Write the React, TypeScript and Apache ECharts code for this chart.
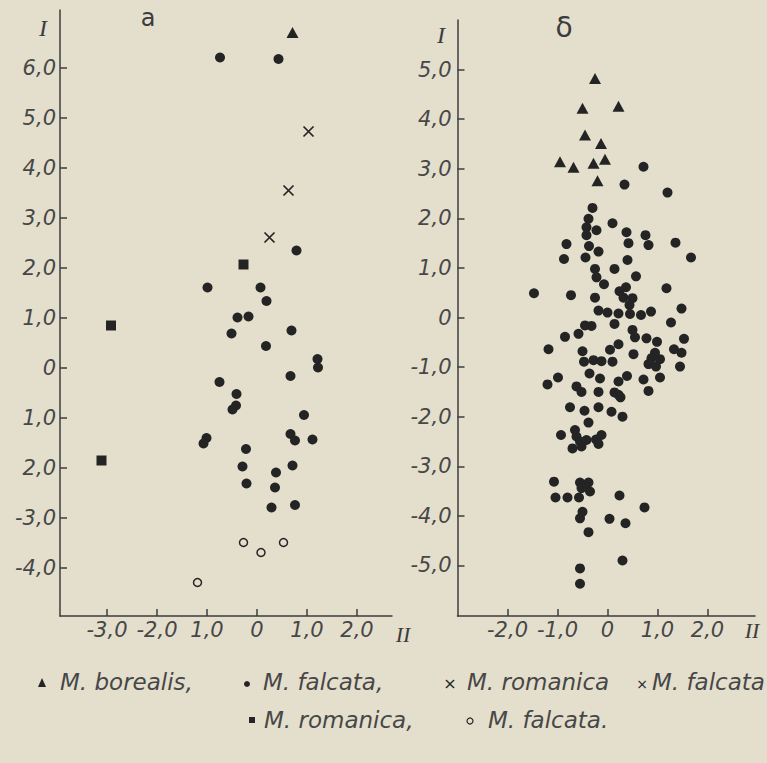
import React, { useEffect, useRef } from "react";
import * as echarts from "echarts";

// ---------- data ----------
// Panel а
const aBorealis = [[0.71, 6.71]];
const aFalcata = [
  [-0.74, 6.21], [0.43, 6.18], [0.79, 2.35], [-0.99, 1.61], [0.07, 1.61], [0.19, 1.34],
  [-0.39, 1.01], [-0.17, 1.03], [-0.51, 0.69], [0.69, 0.75], [0.18, 0.44], [1.21, 0.18],
  [1.22, 0.01], [0.67, -0.16], [-0.75, -0.28], [-0.41, -0.52], [-0.42, -0.75], [-0.49, -0.83],
  [0.94, -0.94], [-1.01, -1.4], [-1.07, -1.51], [0.67, -1.32], [0.76, -1.45], [1.11, -1.43],
  [-0.22, -1.62], [-0.29, -1.97], [0.71, -1.95], [0.38, -2.09], [-0.21, -2.31], [0.36, -2.39],
  [0.29, -2.79], [0.76, -2.74],
];
const aHybrid = [[1.03, 4.73], [0.63, 3.55], [0.25, 2.61]];
const aRomanica = [[-0.27, 2.07], [-2.92, 0.85], [-3.11, -1.85]];
const aFalcataOpen = [[-0.27, -3.49], [0.08, -3.69], [0.53, -3.49], [-1.19, -4.29]];

// Panel б
const bBorealis = [
  [-0.25, 4.82], [-0.5, 4.22], [0.22, 4.26], [-0.45, 3.68], [-0.13, 3.51],
  [-0.95, 3.14], [-0.68, 3.03], [-0.28, 3.11], [-0.05, 3.19], [-0.2, 2.76],
];
const bFalcata = [
  [0.72, 3.04], [0.34, 2.68], [1.2, 2.52], [-0.3, 2.21], [-0.38, 1.99], [-0.42, 1.82],
  [-0.42, 1.66], [-0.22, 1.76], [0.1, 1.9], [0.38, 1.72], [0.76, 1.66], [-0.82, 1.48],
  [-0.37, 1.44], [0.42, 1.5], [0.82, 1.46], [1.36, 1.51], [-0.18, 1.33], [-0.87, 1.18],
  [-0.44, 1.21], [0.4, 1.16], [1.67, 1.21], [-0.25, 0.98], [0.14, 0.98], [-0.22, 0.81],
  [0.57, 0.83], [-0.07, 0.67], [0.37, 0.61], [0.24, 0.53], [1.18, 0.59], [-1.47, 0.49],
  [-0.73, 0.45], [-0.25, 0.4], [0.32, 0.4], [0.5, 0.39], [0.44, 0.25], [1.48, 0.18],
  [-0.18, 0.14], [0.0, 0.1], [0.22, 0.08], [0.45, 0.07], [0.67, 0.05], [0.87, 0.12],
  [1.27, -0.1], [0.14, -0.13], [-0.45, -0.16], [-0.32, -0.17], [-0.58, -0.33], [-0.85, -0.39],
  [0.5, -0.25], [0.55, -0.4], [0.78, -0.42], [0.99, -0.49], [1.53, -0.43], [-1.18, -0.64],
  [0.22, -0.54], [0.05, -0.65], [-0.5, -0.68], [0.52, -0.74], [0.95, -0.71], [1.33, -0.64],
  [1.48, -0.71], [0.88, -0.82], [1.05, -0.84], [0.82, -0.94], [0.97, -0.99], [1.45, -0.99],
  [-0.47, -0.89], [-0.28, -0.86], [-0.12, -0.88], [0.1, -0.89], [-0.36, -1.13], [-0.15, -1.23],
  [0.39, -1.18], [0.22, -1.29], [0.72, -1.25], [1.05, -1.21], [0.82, -1.48], [-1.2, -1.35],
  [-0.99, -1.21], [-0.62, -1.39], [-0.52, -1.5], [-0.18, -1.5], [0.14, -1.51], [0.22, -1.56],
  [0.26, -1.61], [-0.75, -1.81], [-0.46, -1.88], [-0.18, -1.81], [0.08, -1.9], [0.3, -2.0],
  [-0.38, -2.12], [-0.93, -2.37], [-0.65, -2.27], [-0.62, -2.4], [-0.7, -2.64], [-0.55, -2.5],
  [-0.52, -2.6], [-0.42, -2.47], [-0.23, -2.46], [-0.12, -2.37], [-0.18, -2.55], [-1.07, -3.31],
  [-1.04, -3.63], [-0.8, -3.63], [-0.57, -3.63], [-0.55, -3.33], [-0.48, -3.4], [-0.38, -3.33],
  [-0.35, -3.51], [-0.52, -3.44], [-0.5, -3.92], [-0.55, -4.05], [-0.38, -4.33], [0.24, -3.59],
  [0.74, -3.83], [0.04, -4.06], [0.36, -4.15], [0.3, -4.9], [-0.55, -5.06], [-0.55, -5.37],
];

// Tick values and their printed labels
const aXTicks = [-3, -2, -1, 0, 1, 2];
const aXLabels = ["-3,0", "-2,0", "1,0", "0", "1,0", "2,0"];
const aYTicks = [-4, -3, -2, -1, 0, 1, 2, 3, 4, 5, 6];
const aYLabels = ["-4,0", "-3,0", "2,0", "1,0", "0", "1,0", "2,0", "3,0", "4,0", "5,0", "6,0"];
const bXTicks = [-2, -1, 0, 1, 2];
const bXLabels = ["-2,0", "-1,0", "0", "1,0", "2,0"];
const bYTicks = [-5, -4, -3, -2, -1, 0, 1, 2, 3, 4, 5];
const bYLabels = ["-5,0", "-4,0", "-3,0", "-2,0", "-1,0", "0", "1,0", "2,0", "3,0", "4,0", "5,0"];

const legendLine1 = ["M. borealis,", "M. falcata,", "M. romanica", "M. falcata"];
const legendLine2 = ["M. romanica,", "M. falcata."];

const INK = "#242424";
const AXIS = "#3c3c3c";
const LABEL = "#474747";
const BG = "#e4dfcd";
const SANS = "'DejaVu Sans', 'Noto Sans', sans-serif";
const SERIF = "'Liberation Serif', 'DejaVu Serif', serif";

const fmt = (ticks: number[], labels: string[]) => (v: number) => {
  const i = ticks.findIndex((t) => Math.abs(t - v) < 1e-6);
  return i >= 0 ? labels[i] : "";
};

function axis(
  gridIndex: number,
  min: number,
  max: number,
  ticks: number[],
  labels: string[],
  margin: number
) {
  return {
    type: "value",
    gridIndex,
    min,
    max,
    axisLine: { show: true, onZero: false, lineStyle: { color: AXIS, width: 1.5 } },
    axisTick: {
      show: true,
      inside: true,
      length: 7,
      customValues: ticks,
      lineStyle: { color: AXIS, width: 1.5 },
    },
    axisLabel: {
      customValues: ticks,
      formatter: fmt(ticks, labels),
      fontFamily: SANS,
      fontStyle: "italic",
      fontWeight: 300,
      fontSize: 21,
      color: LABEL,
      margin,
      showMinLabel: true,
      showMaxLabel: true,
    },
    splitLine: { show: false },
  };
}

const centered = { textAlign: "center", textVerticalAlign: "middle", align: "center", verticalAlign: "middle" };
const lefted = { textAlign: "left", textVerticalAlign: "middle", align: "left", verticalAlign: "middle" };

export default function App() {
  const ref = useRef<HTMLDivElement>(null);
  useEffect(() => {
    document.body.style.margin = "0";
    const chart = echarts.init(ref.current!, null, { renderer: "svg" });

    const scatter = (data: number[][], xi: number, name: string, symbol: string, size: any, itemStyle: any) => ({
      type: "scatter",
      name,
      xAxisIndex: xi,
      yAxisIndex: xi,
      data,
      symbol,
      symbolSize: size,
      itemStyle: { opacity: 1, ...itemStyle },
      emphasis: { disabled: true },
    });

    const legendFont = `italic 23px ${SANS}`;

    const option: any = {
      animation: false,
      backgroundColor: BG,
      grid: [
        { left: 60, top: 10, width: 332, height: 606, containLabel: false },
        { left: 457.5, top: 20, width: 297.5, height: 596, containLabel: false },
      ],
      xAxis: [
        axis(0, -3.94, 2.7, aXTicks, aXLabels, 3),
        axis(1, -3, 2.95, bXTicks, bXLabels, 3),
      ],
      yAxis: [
        axis(0, -4.96, 7.16, aYTicks, aYLabels, 4),
        axis(1, -6.02, 6.0, bYTicks, bYLabels, 6),
      ],
      series: [
        scatter(aFalcata, 0, "M. falcata", "circle", 10, { color: INK }),
        scatter(aBorealis, 0, "M. borealis", "triangle", [12, 11], { color: INK }),
        scatter(aHybrid, 0, "M. romanica × M. falcata", "path://M0,0L10,10M10,0L0,10", 10, {
          color: "rgba(0,0,0,0)",
          borderColor: INK,
          borderWidth: 1.7,
        }),
        scatter(aRomanica, 0, "M. romanica", "rect", 10, { color: INK }),
        scatter(aFalcataOpen, 0, "M. falcata (open)", "circle", 8, {
          color: BG,
          borderColor: INK,
          borderWidth: 1.5,
        }),
        scatter(bFalcata, 1, "M. falcata", "circle", 10, { color: INK }),
        scatter(bBorealis, 1, "M. borealis", "triangle", [12, 11], { color: INK }),
      ],
      graphic: [
        // axis names and panel letters
        { type: "text", x: 43, y: 28, style: { text: "I", font: `italic 24px ${SERIF}`, fill: AXIS, ...centered } },
        { type: "text", x: 441, y: 35, style: { text: "I", font: `italic 24px ${SERIF}`, fill: AXIS, ...centered } },
        { type: "text", x: 403, y: 634, style: { text: "II", font: `italic 22px ${SERIF}`, fill: AXIS, ...centered } },
        { type: "text", x: 752, y: 630, style: { text: "II", font: `italic 22px ${SERIF}`, fill: AXIS, ...centered } },
        { type: "text", x: 148, y: 18, style: { text: "а", font: `24px ${SANS}`, fill: AXIS, ...centered } },
        { type: "text", x: 564, y: 27, style: { text: "δ", font: `28px ${SANS}`, fill: AXIS, ...centered } },
        // legend line 1
        { type: "polygon", shape: { points: [[38, 687], [46, 687], [42, 678]] }, style: { fill: INK } },
        { type: "text", x: 60, y: 682, style: { text: legendLine1[0], font: legendFont, fill: LABEL, ...lefted } },
        { type: "circle", shape: { cx: 247, cy: 684, r: 3 }, style: { fill: INK } },
        { type: "text", x: 263, y: 682, style: { text: legendLine1[1], font: legendFont, fill: LABEL, ...lefted } },
        { type: "text", x: 450, y: 683, style: { text: "×", font: `16px ${SANS}`, fill: INK, ...centered } },
        { type: "text", x: 467, y: 682, style: { text: legendLine1[2], font: legendFont, fill: LABEL, ...lefted } },
        { type: "text", x: 642, y: 684, style: { text: "×", font: `14px ${SANS}`, fill: INK, ...centered } },
        { type: "text", x: 652, y: 682, style: { text: legendLine1[3], font: legendFont, fill: LABEL, ...lefted } },
        // legend line 2
        { type: "rect", shape: { x: 249, y: 717, width: 6, height: 6 }, style: { fill: INK } },
        { type: "text", x: 264, y: 720, style: { text: legendLine2[0], font: legendFont, fill: LABEL, ...lefted } },
        { type: "circle", shape: { cx: 470, cy: 721, r: 3 }, style: { fill: "none", stroke: INK, lineWidth: 1.2 } },
        { type: "text", x: 488, y: 720, style: { text: legendLine2[1], font: legendFont, fill: LABEL, ...lefted } },
      ],
    };
    chart.setOption(option);
    return () => chart.dispose();
  }, []);
  return (
    <div
      ref={ref}
      style={{ position: "fixed", left: 0, top: 0, width: 767, height: 763 }}
    />
  );
}
